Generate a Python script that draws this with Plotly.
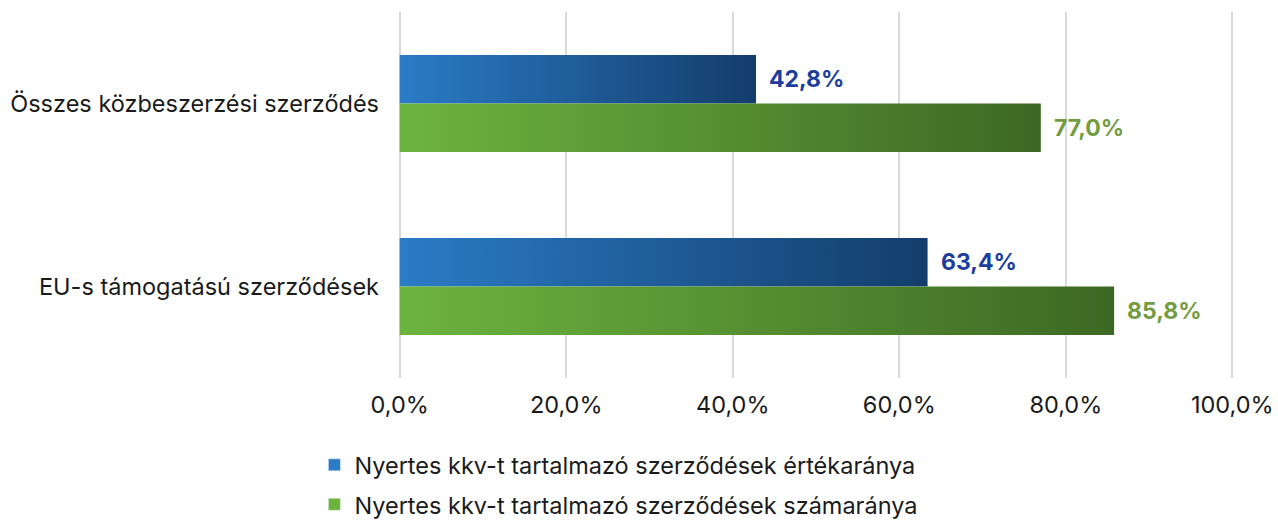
import plotly.graph_objects as go

categories = ["Összes közbeszerzési szerződés", "EU-s támogatású szerződések"]
series_names = [
    "Nyertes kkv-t tartalmazó szerződések értékaránya",
    "Nyertes kkv-t tartalmazó szerződések számaránya",
]
value_share = [42.8, 63.4]
count_share = [77.0, 85.8]
tick_values = [0, 20, 40, 60, 80, 100]
tick_labels = ["0,0%", "20,0%", "40,0%", "60,0%", "80,0%", "100,0%"]

series = [
    dict(name=series_names[0], values=value_share,
         grad=["#2b7bc6", "#133d6b"], label="#1a3d9e", offset=-1),
    dict(name=series_names[1], values=count_share,
         grad=["#6db43f", "#3d6824"], label="#739c41", offset=1),
]

BAR_H = 0.265
FONT = "Inter, Roboto, sans-serif"

fig = go.Figure()
for k, s in enumerate(series):
    for i, v in enumerate(s["values"]):
        if s["offset"] < 0:
            y0, y1 = i - BAR_H, i
        else:
            y0, y1 = i, i + BAR_H
        fig.add_trace(go.Scatter(
            x=[0, v, v, 0, 0], y=[y0, y0, y1, y1, y0],
            mode="lines", line=dict(width=0),
            fill="toself",
            fillgradient=dict(type="horizontal",
                              colorscale=[[0, s["grad"][0]], [1, s["grad"][1]]]),
            fillcolor=s["grad"][0],
            name=s["name"], showlegend=False, hoverinfo="skip",
        ))
        fig.add_annotation(
            x=v, y=(y0 + y1) / 2, xref="x", yref="y",
            text="<b>" + f"{v:.1f}".replace(".", ",") + "%</b>",
            showarrow=False, xanchor="left", xshift=11,
            font=dict(family=FONT, size=23, color=s["label"]),
        )
    # legend entry (square swatch)
    fig.add_trace(go.Bar(
        x=[None], y=[None], orientation="h", name=s["name"],
        legendgroup=f"g{k}",
        marker=dict(color=s["grad"][0]), showlegend=True, hoverinfo="skip",
    ))

fig.update_layout(
    width=1278, height=520,
    margin=dict(l=398, r=44, t=12, b=142, autoexpand=False),
    paper_bgcolor="white", plot_bgcolor="white",
    font=dict(family=FONT, color="#1a1a1a"),
    showlegend=True,
    legend=dict(orientation="v", xref="container", yref="container",
                x=0.246, xanchor="left", y=0.148, yanchor="top",
                font=dict(family=FONT, size=23.5, color="#1a1a1a"),
                tracegroupgap=6, itemwidth=30, traceorder="grouped"),
    xaxis=dict(range=[-0.2, 100.2], tickvals=tick_values, ticktext=tick_labels,
               showgrid=True, gridcolor="#d9d9d9", gridwidth=2,
               zeroline=False, showline=False, ticks="", automargin=False,
               ticklabelstandoff=10,
               tickfont=dict(family=FONT, size=23.5, color="#1a1a1a"), fixedrange=True),
    yaxis=dict(range=[1.5, -0.5], tickvals=list(range(len(categories))),
               ticktext=categories, showgrid=False, zeroline=False, ticks="",
               ticklabelstandoff=18, automargin=False, fixedrange=True,
               tickfont=dict(family=FONT, size=23.5, color="#1a1a1a")),
)

fig.write_html(
    "out.html",
    config={"displayModeBar": False},
    post_script="document.body.style.margin='0';document.body.style.overflow='hidden';",
)
